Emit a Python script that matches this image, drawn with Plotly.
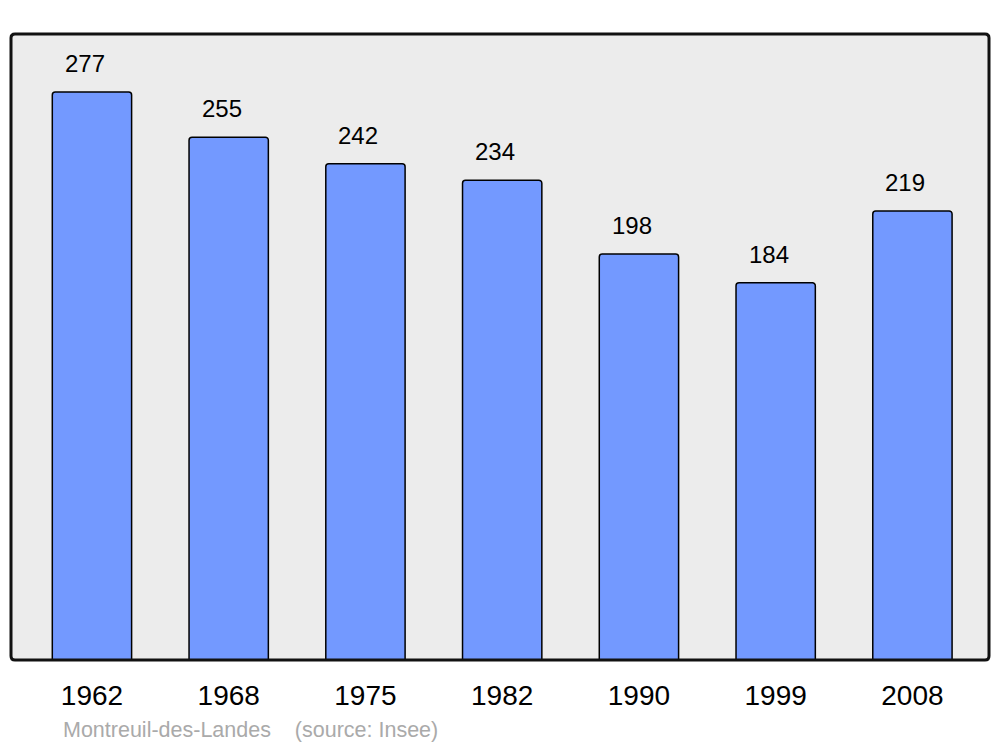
import plotly.graph_objects as go

years = ["1962", "1968", "1975", "1982", "1990", "1999", "2008"]
population = [277, 255, 242, 234, 198, 184, 219]
source_text = "Montreuil-des-Landes    (source: Insee)"

W, H = 1000, 747
L, R, T, B = 11, 11, 34, 87
pw, ph = W - L - R, H - T - B

fig = go.Figure(
    go.Bar(
        x=years,
        y=population,
        width=0.58,
        marker=dict(color="#7399ff", line=dict(color="black", width=1.5)),
        hoverinfo="x+y",
    )
)

# value labels above the bars (category axis -> use index positions)
for i, v in enumerate(population):
    fig.add_annotation(
        x=i, y=v, text=str(v), showarrow=False,
        yanchor="bottom", yshift=13, xshift=-7,
        font=dict(size=24, color="black"),
    )

fig.add_annotation(
    x=(61 - L) / pw, y=(H - B - 730) / ph, xref="paper", yref="paper",
    text=source_text, showarrow=False, xanchor="left", yanchor="middle",
    font=dict(size=21.5, color="#aaaaaa"),
)

# frame with slightly rounded corners
rx, ry = 4 / pw, 4 / ph
frame = (
    f"M {rx},0 L {1 - rx},0 Q 1,0 1,{ry} L 1,{1 - ry} Q 1,1 {1 - rx},1 "
    f"L {rx},1 Q 0,1 0,{1 - ry} L 0,{ry} Q 0,0 {rx},0 Z"
)
fig.add_shape(type="path", path=frame, xref="paper", yref="paper",
              line=dict(color="#111111", width=3), layer="above")

fig.update_layout(
    width=W, height=H,
    margin=dict(l=L, r=R, t=T, b=B),
    paper_bgcolor="white",
    plot_bgcolor="#ececec",
    font=dict(family="Liberation Sans, Arial, sans-serif"),
    barcornerradius=3,
    showlegend=False,
    xaxis=dict(
        type="category", range=[-0.592, 6.56], showgrid=False,
        zeroline=False, showline=False, ticks="",
        tickfont=dict(size=28, color="black"), ticklabelstandoff=16,
    ),
    yaxis=dict(range=[0, 305.3], visible=False, showgrid=False),
)

# drop the default body margin so the figure sits at the page origin
fig.write_html(
    "out.html",
    config={"displayModeBar": False},
    post_script="document.body.style.margin='0';document.body.style.padding='0';",
)
